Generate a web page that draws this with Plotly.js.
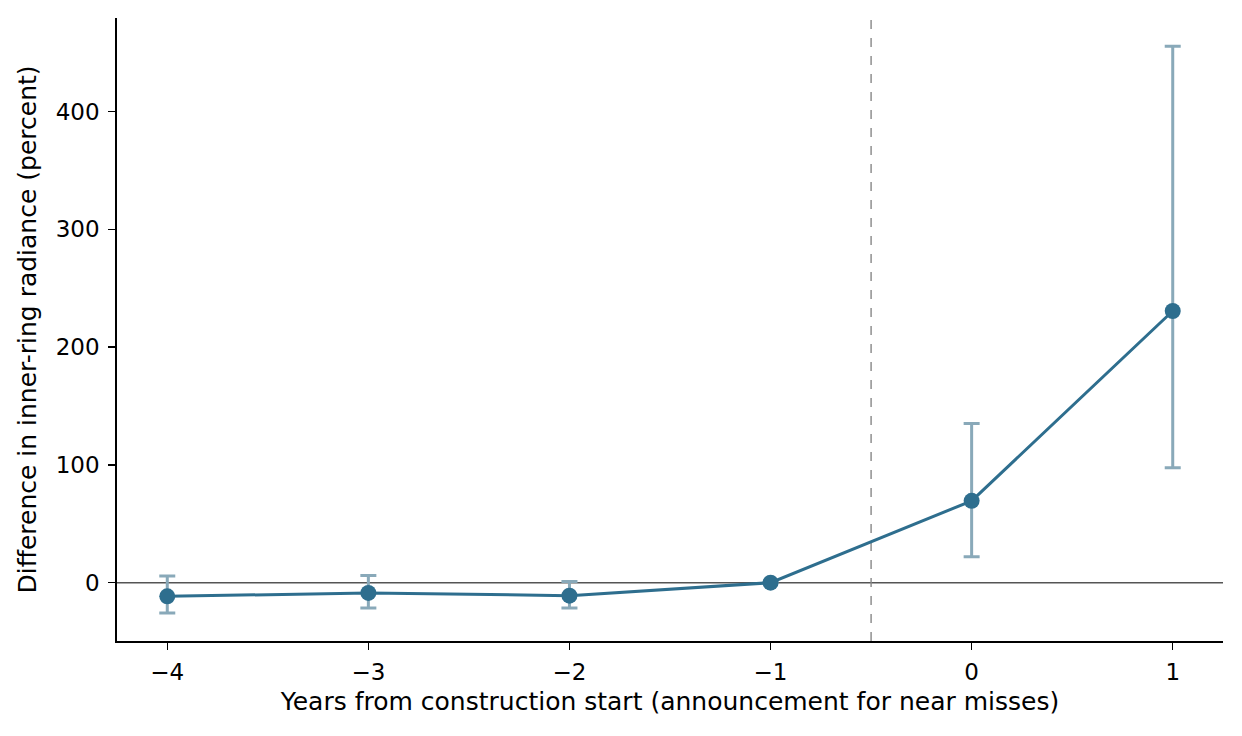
<!DOCTYPE html>
<html>
<head>
<meta charset="utf-8">
<script src="https://cdn.plot.ly/plotly-3.0.1.min.js"></script>
<style>
  html, body { margin: 0; padding: 0; background: #fff; }
  #chart { width: 1242px; height: 736px; }
</style>
</head>
<body>
<div id="chart"></div>
<script>
// event-study estimates
const years = [-4, -3, -2, -1, 0, 1];
const estimate = [-11.6, -8.7, -11, 0, 69.5, 230.7];
const ciLow = [-25.7, -21.4, -21.4, 0, 22, 97.6];
const ciHigh = [5.6, 6.2, 1, 0, 135.2, 455.5];
const tickVals = [0, 100, 200, 300, 400];
const eventLine = -0.5;

const lineColor = '#2e6e8e';
const errColor = '#89a9b9';

let trace = {
	x: years,
	y: estimate,
	mode: 'lines+markers',
	line: { color: lineColor, width: 3 },
	marker: { color: lineColor, size: 16 },
	error_y: {
		type: 'data',
		symmetric: false,
		array: ciHigh.map((e, i) => e - estimate[i]),
		arrayminus: estimate.map((e, i) => e - ciLow[i]),
		color: errColor,
		thickness: 3,
		width: 8,
		visible: true
	},
	hoverinfo: 'x+y'
};

let layout = {
	width: 1242,
	height: 736,
	margin: { l: 117, r: 19, t: 18, b: 95 },
	paper_bgcolor: '#fff',
	plot_bgcolor: '#fff',
	showlegend: false,
	font: { family: 'DejaVu Sans, sans-serif', size: 23, color: '#000' },
	xaxis: {
		range: [-4.25, 1.25],
		tickvals: years,
		ticks: 'outside',
		ticklen: 7,
		tickwidth: 1.4,
		tickcolor: '#000',
		ticklabelstandoff: 3,
		showline: true,
		linecolor: '#000',
		linewidth: 1.8,
		showgrid: false,
		zeroline: false,
		title: { text: 'Years from construction start (announcement for near misses)', font: { size: 25 }, standoff: 8 }
	},
	yaxis: {
		range: [-49.5, 479.5],
		tickvals: tickVals,
		ticks: 'outside',
		ticklen: 7,
		tickwidth: 1.4,
		tickcolor: '#000',
		ticklabelstandoff: 4,
		showline: true,
		linecolor: '#000',
		linewidth: 1.8,
		showgrid: false,
		zeroline: false,
		title: { text: 'Difference in inner-ring radiance (percent)', font: { size: 25 }, standoff: 12 }
	},
	shapes: [
		{
			type: 'line', xref: 'paper', yref: 'y',
			x0: 0, x1: 1, y0: 0, y1: 0,
			line: { color: '#555', width: 1.5 },
			layer: 'below'
		},
		{
			type: 'line', xref: 'x', yref: 'paper',
			x0: eventLine, x1: eventLine, y0: 0, y1: 1,
			line: { color: '#888', width: 1.4, dash: 'dash' },
			layer: 'below'
		}
	]
};

Plotly.newPlot('chart', [trace], layout, { displayModeBar: false, staticPlot: true });
</script>
</body>
</html>
